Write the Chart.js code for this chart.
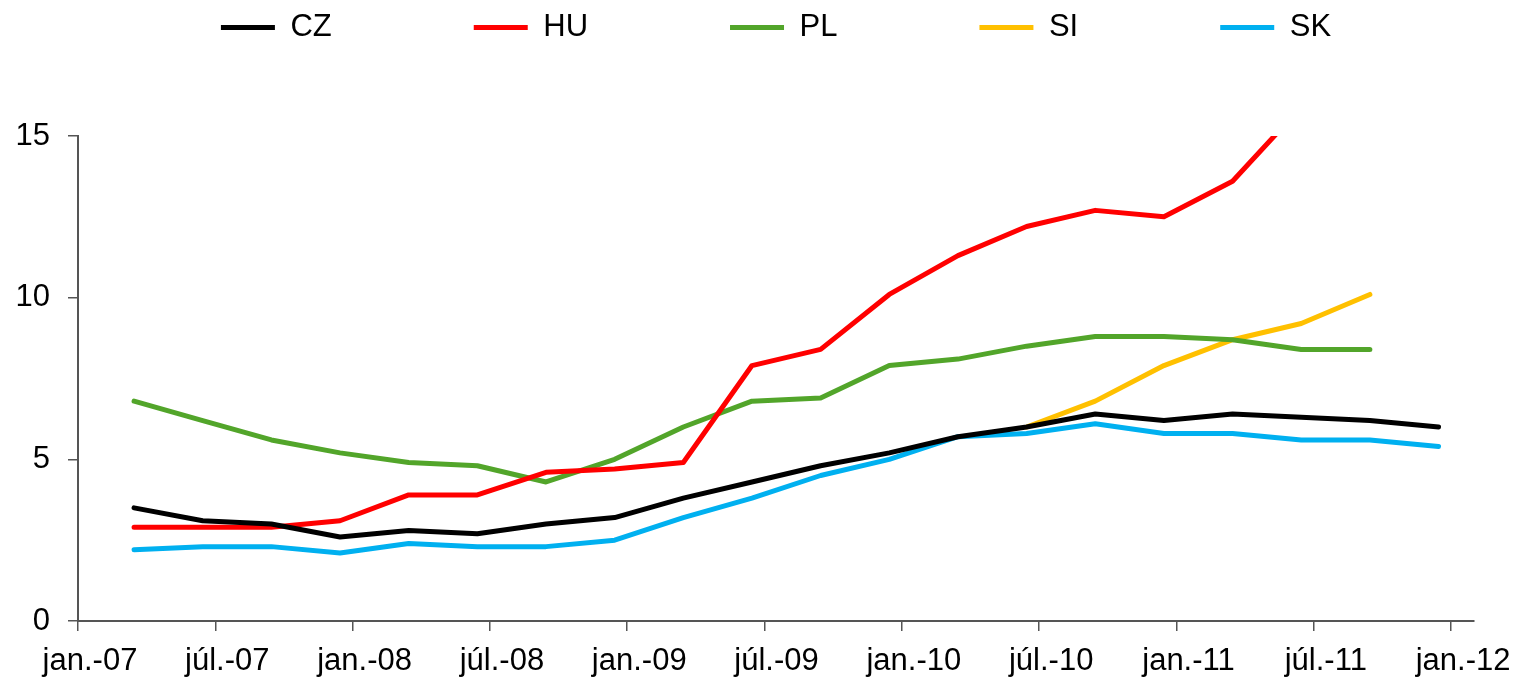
<!DOCTYPE html>
<html lang="sk">
<head>
    <meta charset="UTF-8">
    <title>CZ HU PL SI SK</title>
    <style>
        html, body { margin: 0; padding: 0; background: #fff; }
        #chart { display: block; }
    </style>
</head>
<body>
    <canvas id="chart" width="1520" height="679"></canvas>

    <script src="https://cdn.jsdelivr.net/npm/chart.js"></script>
    <script>
        // quarterly observations
        const quarters = [
            '2007Q1', '2007Q2', '2007Q3', '2007Q4',
            '2008Q1', '2008Q2', '2008Q3', '2008Q4',
            '2009Q1', '2009Q2', '2009Q3', '2009Q4',
            '2010Q1', '2010Q2', '2010Q3', '2010Q4',
            '2011Q1', '2011Q2', '2011Q3', '2011Q4'
        ];
        const cz = [3.5, 3.1, 3.0, 2.6, 2.8, 2.7, 3.0, 3.2, 3.8, 4.3, 4.8, 5.2, 5.7, 6.0, 6.4, 6.2, 6.4, 6.3, 6.2, 6.0];
        const hu = [2.9, 2.9, 2.9, 3.1, 3.9, 3.9, 4.6, 4.7, 4.9, 7.9, 8.4, 10.1, 11.3, 12.2, 12.7, 12.5, 13.6, 15.9, null, null];
        const pl = [6.8, 6.2, 5.6, 5.2, 4.9, 4.8, 4.3, 5.0, 6.0, 6.8, 6.9, 7.9, 8.1, 8.5, 8.8, 8.8, 8.7, 8.4, 8.4, null];
        const si = [null, null, null, null, null, null, null, null, null, null, null, null, null, 6.0, 6.8, 7.9, 8.7, 9.2, 10.1, null];
        const sk = [2.2, 2.3, 2.3, 2.1, 2.4, 2.3, 2.3, 2.5, 3.2, 3.8, 4.5, 5.0, 5.7, 5.8, 6.1, 5.8, 5.8, 5.6, 5.6, 5.4];

        const tickLabels = ['jan.-07', 'júl.-07', 'jan.-08', 'júl.-08', 'jan.-09', 'júl.-09',
                            'jan.-10', 'júl.-10', 'jan.-11', 'júl.-11', 'jan.-12'];

        // months since jan.-07 for a quarter label (points sit in the last month of the quarter)
        function monthOf(q) {
            const year = parseInt(q.slice(0, 4), 10);
            const n = parseInt(q.slice(5), 10);
            return (year - 2007) * 12 + (n - 1) * 3 + 2.45;
        }

        function series(values) {
            return quarters.map((q, i) => ({ x: monthOf(q), y: values[i] }));
        }

        function ds(label, values, color) {
            return {
                label: label,
                data: series(values),
                borderColor: color,
                backgroundColor: color,
                borderWidth: 5,
                pointRadius: 0,
                tension: 0,
                borderJoinStyle: 'round',
                borderCapStyle: 'round',
                spanGaps: false,
                clip: 0
            };
        }

        const font = { family: "'Liberation Sans', Arial, sans-serif", size: 31 };

        // makes the legend row take the space above the plot
        const legendSpace = {
            id: 'legendSpace',
            beforeInit(chart) {
                const fit = chart.legend.fit;
                chart.legend.fit = function () {
                    fit.call(this);
                    this.height = 266;
                };
            }
        };

        new Chart(document.getElementById('chart').getContext('2d'), {
            type: 'line',
            data: {
                datasets: [
                    ds('CZ', cz, '#000000'),
                    ds('HU', hu, '#ff0000'),
                    ds('PL', pl, '#52a52a'),
                    ds('SI', si, '#ffc000'),
                    ds('SK', sk, '#00b0f0')
                ]
            },
            options: {
                responsive: false,
                animation: false,
                layout: { padding: { top: -130, left: 0, right: 46, bottom: 0 } },
                plugins: {
                    tooltip: { enabled: false },
                    legend: {
                        position: 'top',
                        fullSize: false,
                        labels: {
                            boxWidth: 54,
                            boxHeight: 5,
                            padding: 142,
                            color: '#000',
                            font: font,
                            generateLabels(chart) {
                                return Chart.defaults.plugins.legend.labels.generateLabels(chart)
                                    .map(item => Object.assign(item, { lineWidth: 0 }));
                            }
                        }
                    }
                },
                scales: {
                    x: {
                        type: 'linear',
                        min: 0,
                        max: 61,
                        afterFit(scale) { scale.height = 58; },
                        ticks: {
                            stepSize: 6,
                            includeBounds: false,
                            autoSkip: false,
                            maxRotation: 0,
                            labelOffset: 12,
                            padding: 12,
                            color: '#000',
                            font: font,
                            callback: value => tickLabels[Math.round(value / 6)]
                        },
                        grid: { drawOnChartArea: false, drawTicks: true, tickLength: 10, color: '#555', lineWidth: 1.5 },
                        border: { color: '#555', width: 2 }
                    },
                    y: {
                        min: 0,
                        max: 15,
                        afterFit(scale) { scale.width = 78; },
                        ticks: {
                            stepSize: 5,
                            padding: 18,
                            color: '#000',
                            font: font
                        },
                        grid: { drawOnChartArea: false, drawTicks: true, tickLength: 10, color: '#555', lineWidth: 1.5 },
                        border: { color: '#555', width: 2 }
                    }
                }
            },
            plugins: [legendSpace]
        });
    </script>
</body>
</html>
